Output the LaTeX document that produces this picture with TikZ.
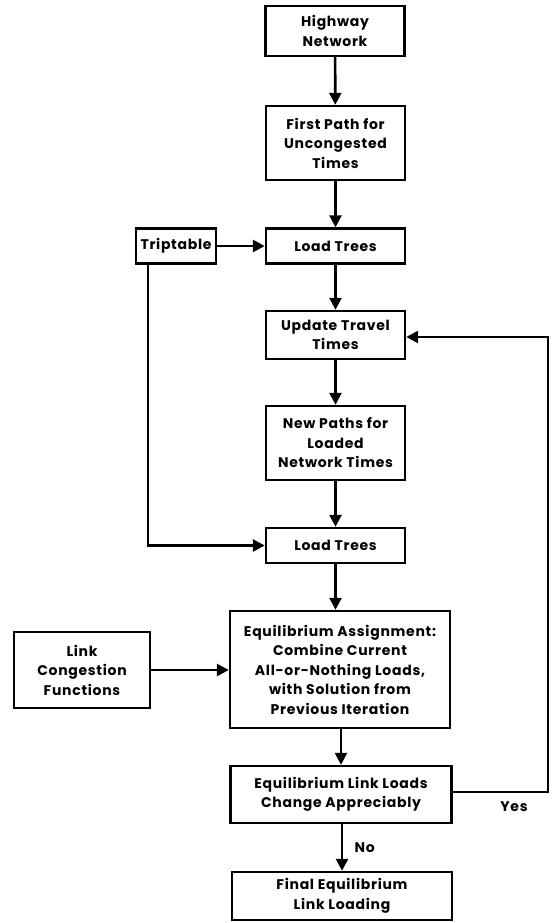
\documentclass[tikz,border=0pt]{standalone}
\usepackage{fontspec}
\setmainfont{Poppins}[LetterSpace=5]
\usetikzlibrary{arrows.meta}
\tikzset{
  box/.style={draw, line width=2.4pt, align=center, inner sep=0pt,
    font=\bfseries\fontsize{14}{19.5}\selectfont},
  conn/.style={line width=2.6pt, -{Triangle[length=12pt,width=12pt]}},
  lbl/.style={font=\bfseries\fontsize{14}{16}\selectfont}
}
\begin{document}
\begin{tikzpicture}[x=1pt,y=-1pt]
\useasboundingbox (0,0) rectangle (555,923);
\node[box, minimum width=139pt, minimum height=50pt] (hw) at (335,31) {Highway\\Network};
\node[box, minimum width=139pt, minimum height=74pt] (fp) at (335.5,143) {First Path for\\Uncongested\\Times};
\node[box, minimum width=139pt, minimum height=35pt] (lt1) at (335.5,246) {Load Trees};
\node[box, minimum width=80pt, minimum height=35pt] (tt) at (176,246) {Triptable};
\node[box, minimum width=139pt, minimum height=48pt] (utt) at (335.5,335) {Update Travel\\Times};
\node[box, minimum width=139pt, minimum height=74pt] (np) at (335.5,443) {New Paths for\\Loaded\\Network Times};
\node[box, minimum width=139pt, minimum height=35pt] (lt2) at (335.5,545.5) {Load Trees};
\node[box, minimum width=220pt, minimum height=117pt] (ea) at (340,669.5) {Equilibrium Assignment:\\Combine Current\\All-or-Nothing Loads,\\with Solution from\\Previous Iteration};
\node[box, minimum width=136pt, minimum height=76pt] (lc) at (82,670) {Link\\Congestion\\Functions};
\node[box, minimum width=221pt, minimum height=57pt] (el) at (341,794.5) {Equilibrium Link Loads\\Change Appreciably};
\node[box, minimum width=220pt, minimum height=48pt] (fe) at (342,896) {Final Equilibrium\\Link Loading};
\coordinate (fbr) at (548,792);
\coordinate (fbt) at (548,337);
\coordinate (ttc) at (148,545.5);
\draw[conn] (hw) -- (fp);
\draw[conn] (fp) -- (lt1);
\draw[conn] (tt) -- (lt1);
\draw[conn] (lt1) -- (utt);
\draw[conn] (utt) -- (np);
\draw[conn] (np) -- (lt2);
\draw[conn] (ttc |- tt.south) -- (ttc) -- (lt2.west);
\draw[conn] (lt2.south) -- (lt2.south |- ea.north);
\draw[conn] (lc) -- (lc -| ea.west);
\draw[conn] (ea.south -| el.north) -- (el.north);
\draw[conn] (el.south -| fe.north) -- node[lbl, right=8pt, pos=0.5] (no) {No} (fe.north);
\draw[conn] (el.east |- fbr) -- (fbr) -- (fbt) -- (fbt -| utt.east);
\node[lbl] (yes) at (514,807) {Yes};
\end{tikzpicture}
\end{document}
